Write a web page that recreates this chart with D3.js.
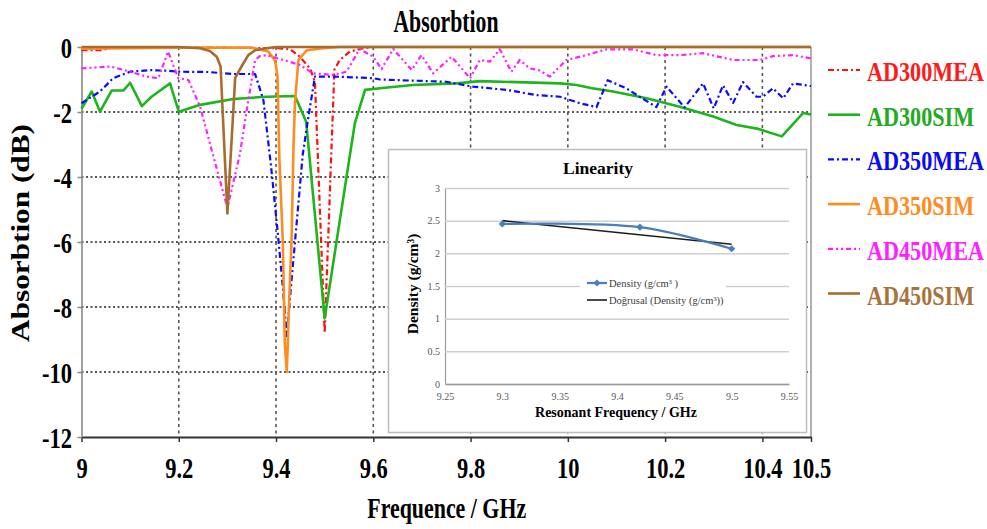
<!DOCTYPE html>
<html>
<head>
<meta charset="utf-8">
<script src="https://cdn.jsdelivr.net/npm/d3@7"></script>
<style>
  body { margin: 0; background: #fff; }
  svg { display: block; font-family: "Liberation Serif", "Times New Roman", serif; }
</style>
</head>
<body>
<svg id="chart" width="987" height="529"></svg>
<script>
// main chart series, [frequency GHz, absorption dB]
const ad300mea = [[9,-0.1],[9.04,-0.1],[9.06,-0.03],[9.2,-0.02],[9.3,-0.02],[9.41,-0.04],[9.43,-0.08],[9.449,-0.3],[9.47,-0.66],[9.48,-1.07],[9.5,-8.8],[9.52,-0.7],[9.531,-0.4],[9.552,-0.14],[9.579,-0.04],[9.6,0],[10.5,0]];
const ad300sim = [[9,-1.9],[9.021,-1.37],[9.038,-1.99],[9.062,-1.34],[9.086,-1.34],[9.1,-1.1],[9.124,-1.82],[9.144,-1.53],[9.182,-1.12],[9.2,-1.99],[9.244,-1.78],[9.312,-1.6],[9.38,-1.53],[9.439,-1.51],[9.462,-2.3],[9.5,-8.35],[9.562,-2.35],[9.583,-1.32],[9.614,-1.27],[9.681,-1.17],[9.771,-1.12],[9.819,-1.05],[9.984,-1.12],[10.018,-1.17],[10.05,-1.27],[10.093,-1.37],[10.162,-1.58],[10.23,-1.84],[10.299,-2.14],[10.347,-2.4],[10.392,-2.52],[10.44,-2.75],[10.484,-2.03],[10.5,-2.08]];
const ad350mea = [[9,-1.73],[9.038,-1.37],[9.065,-0.96],[9.1,-0.76],[9.141,-0.71],[9.175,-0.73],[9.2,-0.76],[9.26,-0.77],[9.312,-0.83],[9.357,-0.83],[9.374,-1.63],[9.39,-3.7],[9.405,-5.94],[9.414,-7.4],[9.422,-8.9],[9.43,-7.5],[9.455,-3.3],[9.466,-2.2],[9.48,-0.91],[9.52,-0.91],[9.6,-0.96],[9.614,-1.0],[9.75,-1.07],[9.805,-1.22],[9.874,-1.32],[9.936,-1.48],[9.984,-1.53],[10.025,-1.73],[10.059,-1.85],[10.082,-1.02],[10.12,-1.27],[10.182,-1.85],[10.203,-1.22],[10.24,-1.86],[10.278,-1.12],[10.3,-1.89],[10.319,-1.18],[10.34,-1.72],[10.36,-1.08],[10.388,-1.53],[10.401,-1.53],[10.422,-1.27],[10.443,-1.58],[10.463,-1.12],[10.5,-1.2]];
const ad350sim = [[9,-0.05],[9.2,-0.02],[9.35,-0.02],[9.384,-0.14],[9.398,-0.42],[9.403,-0.9],[9.407,-3.5],[9.414,-6.0],[9.418,-9.1],[9.422,-10],[9.424,-9.2],[9.426,-8.2],[9.432,-5.9],[9.436,-3.0],[9.439,-1.7],[9.446,-0.4],[9.463,-0.1],[9.497,-0.04],[9.53,0],[10.5,0]];
const ad450mea = [[9,-0.66],[9.059,-0.6],[9.093,-0.73],[9.134,-0.91],[9.158,-0.96],[9.178,-0.14],[9.199,-0.96],[9.22,-1.02],[9.244,-1.84],[9.27,-3.3],[9.3,-4.95],[9.326,-3.27],[9.343,-1.63],[9.357,-0.4],[9.367,-0.28],[9.381,-0.25],[9.415,-0.4],[9.449,-0.55],[9.476,-0.81],[9.518,-0.86],[9.545,-0.76],[9.572,-0.06],[9.6,-0.3],[9.617,-0.68],[9.641,-0.06],[9.679,-0.71],[9.699,-0.25],[9.723,-0.81],[9.761,-0.3],[9.799,-0.96],[9.819,-0.4],[9.84,-0.45],[9.86,-0.07],[9.884,-0.76],[9.901,-0.4],[9.922,-0.66],[9.939,-0.7],[9.963,-0.91],[9.997,-0.4],[10.038,-0.25],[10.08,-0.07],[10.134,-0.07],[10.182,-0.25],[10.23,-0.25],[10.278,-0.19],[10.34,-0.4],[10.395,-0.4],[10.422,-0.28],[10.463,-0.25],[10.5,-0.35]];
const ad450sim = [[9,0],[9.2,0],[9.244,-0.04],[9.264,-0.12],[9.278,-0.3],[9.286,-0.6],[9.3,-5.12],[9.316,-0.95],[9.329,-0.6],[9.343,-0.25],[9.357,-0.1],[9.38,-0.04],[9.4,0],[10.5,0]];

const seriesNames = ["AD300MEA", "AD300SIM", "AD350MEA", "AD350SIM", "AD450MEA", "AD450SIM"];
const seriesData = [ad300mea, ad300sim, ad350mea, ad350sim, ad450mea, ad450sim];

const xTicks = [9, 9.2, 9.4, 9.6, 9.8, 10, 10.2, 10.4, 10.5];
const xTickLabels = ["9", "9.2", "9.4", "9.6", "9.8", "10", "10.2", "10.4", "10.5"];
const yTicks = [0, -2, -4, -6, -8, -10, -12];
const yTickLabels = ["0", "-2", "-4", "-6", "-8", "-10", "-12"];

// inset "Linearity"
const resFreq = [9.3, 9.42, 9.5];
const density = [2.45, 2.40, 2.07];
const trendFreq = [9.3, 9.5];
const trendDensity = [2.50, 2.14];
const insetXTicks = [9.25, 9.3, 9.35, 9.4, 9.45, 9.5, 9.55];
const insetXLabels = ["9.25", "9.3", "9.35", "9.4", "9.45", "9.5", "9.55"];
const insetYTicks = [0, 0.5, 1, 1.5, 2, 2.5, 3];
const insetYLabels = ["0", "0.5", "1", "1.5", "2", "2.5", "3"];

// styles per series (drawing order = series order)
const styles = {
  AD300MEA: {color: "#ff1010", text: "#ff1a1a", dash: "6,3,2,3", width: 2.2},
  AD300SIM: {color: "#1cb51c", text: "#22aa22", dash: null, width: 2.6},
  AD350MEA: {color: "#0a0aff", text: "#0a0aee", dash: "6,3,2,3", width: 2.2},
  AD350SIM: {color: "#ff8c1e", text: "#ff8a20", dash: null, width: 2.6},
  AD450MEA: {color: "#ff20ff", text: "#ff20ff", dash: "5,3,2,3,2,3", width: 2.2},
  AD450SIM: {color: "#a86d2e", text: "#a8733a", dash: null, width: 2.6}
};

const svg = d3.select("#chart");

// condensed serif text helper
const label = (g, str, x, y, o) => g.append("text")
  .attr("transform", `translate(${x},${y}) rotate(${o.rot || 0}) scale(${o.sx || 1},1)`)
  .attr("text-anchor", o.anchor || "middle")
  .attr("font-size", o.size)
  .attr("font-weight", o.weight || "bold")
  .attr("fill", o.fill || "#000")
  .text(str);

const x = d3.scaleLinear().domain([9, 10.5]).range([81.5, 811]);
const y = d3.scaleLinear().domain([-12, 0]).range([437, 47]);

// grid
svg.append("g").selectAll("line")
  .data(yTicks.filter(d => d < 0 && d > -12))
  .join("line")
    .attr("x1", x(9)).attr("x2", x(10.5))
    .attr("y1", d => y(d)).attr("y2", d => y(d))
    .attr("stroke", "#222").attr("stroke-width", 1.6)
    .attr("stroke-dasharray", "2,2.5");

svg.append("g").selectAll("line")
  .data(xTicks.filter(d => d > 9 && d < 10.5))
  .join("line")
    .attr("x1", d => x(d)).attr("x2", d => x(d))
    .attr("y1", y(0)).attr("y2", y(-12))
    .attr("stroke", "#555").attr("stroke-width", 1.6)
    .attr("stroke-dasharray", "3,3.5");

// right frame
svg.append("line")
  .attr("x1", x(10.5)).attr("x2", x(10.5)).attr("y1", y(0)).attr("y2", y(-12))
  .attr("stroke", "#999").attr("stroke-width", 1.5);

// axes
const sxTick = 0.75;
const xAxis = svg.append("g")
  .attr("transform", `translate(0,${y(-12)})`)
  .call(d3.axisBottom(x).tickValues(xTicks).tickFormat((d, i) => xTickLabels[i]).tickSize(5).tickSizeOuter(0));
xAxis.attr("font-family", null).attr("font-size", 30).attr("font-weight", "bold");
xAxis.select(".domain").attr("stroke", "#333").attr("stroke-width", 2);
xAxis.selectAll(".tick line").attr("stroke", "#333").attr("stroke-width", 1.5);
xAxis.selectAll(".tick text").attr("y", 41).attr("dy", null).attr("fill", "#000")
  .attr("transform", `scale(${sxTick},1)`);

const yAxis = svg.append("g")
  .attr("transform", `translate(${x(9)},0)`)
  .call(d3.axisLeft(y).tickValues(yTicks).tickFormat((d, i) => yTickLabels[i]).tickSize(4).tickSizeOuter(0));
yAxis.attr("font-family", null).attr("font-size", 30).attr("font-weight", "bold");
yAxis.select(".domain").attr("stroke", "#888").attr("stroke-width", 1.6);
yAxis.selectAll(".tick line").attr("stroke", "#888").attr("stroke-width", 1.5);
yAxis.selectAll(".tick text").attr("x", -9.5 / sxTick).attr("y", 10.5).attr("dy", null).attr("fill", "#000")
  .attr("transform", `scale(${sxTick},1)`);

// series lines
const line = d3.line().x(d => x(d[0])).y(d => y(d[1]));
svg.append("g").selectAll("path")
  .data(seriesNames)
  .join("path")
    .attr("d", (d, i) => line(seriesData[i]))
    .attr("fill", "none")
    .attr("stroke", d => styles[d].color)
    .attr("stroke-width", d => styles[d].width)
    .attr("stroke-dasharray", d => styles[d].dash)
    .attr("stroke-linejoin", "round");

// titles
label(svg, "Absorbtion", 446, 32, {size: 32, sx: 0.68});
label(svg, "Frequence / GHz", 446.7, 518, {size: 30, sx: 0.73});
label(svg, "Absorbtion (dB)", 28.5, 233, {size: 25, sx: 1.25, rot: -90});

// legend
const legend = svg.append("g").selectAll("g")
  .data(seriesNames)
  .join("g")
    .attr("transform", (d, i) => `translate(0,${81 + i * 44.7})`);
legend.append("line")
  .attr("x1", 828).attr("x2", 860).attr("y1", -11).attr("y2", -11)
  .attr("stroke", d => styles[d].color)
  .attr("stroke-width", d => styles[d].width)
  .attr("stroke-dasharray", d => styles[d].dash);
legend.each(function(d) {
  label(d3.select(this), d, 867, 0, {size: 27.7, sx: 0.8, anchor: "start", fill: styles[d].text});
});

// inset chart
const inset = svg.append("g");
inset.append("rect")
  .attr("x", 388.5).attr("y", 149.5).attr("width", 418).attr("height", 283)
  .attr("fill", "#fff").attr("stroke", "#bdbdbd").attr("stroke-width", 1.5);

const ix = d3.scaleLinear().domain([9.25, 9.55]).range([445, 789]);
const iy = d3.scaleLinear().domain([0, 3]).range([384, 188]);

const iyAxis = inset.append("g")
  .attr("transform", `translate(${ix(9.25)},0)`)
  .call(d3.axisLeft(iy).tickValues(insetYTicks).tickFormat((d, i) => insetYLabels[i])
    .tickSize(-(ix(9.55) - ix(9.25))).tickSizeOuter(0).tickPadding(5));
iyAxis.attr("font-family", null).attr("font-size", 10);
iyAxis.select(".domain").attr("stroke", "#9a9a9a").attr("stroke-width", 1.2);
iyAxis.selectAll(".tick line").attr("stroke", "#cfcfcf").attr("stroke-width", 1.5);
iyAxis.selectAll(".tick text").attr("fill", "#595959");

const ixAxis = inset.append("g")
  .attr("transform", `translate(0,${iy(0)})`)
  .call(d3.axisBottom(ix).tickValues(insetXTicks).tickFormat((d, i) => insetXLabels[i])
    .tickSize(0).tickSizeOuter(0).tickPadding(9));
ixAxis.attr("font-family", null).attr("font-size", 10);
ixAxis.select(".domain").attr("stroke", "#9a9a9a").attr("stroke-width", 1.5);
ixAxis.selectAll(".tick text").attr("fill", "#595959");

const trendLine = d3.line().x(d => ix(d[0])).y(d => iy(d[1]));
inset.append("path")
  .attr("d", trendLine(trendFreq.map((f, i) => [f, trendDensity[i]])))
  .attr("fill", "none").attr("stroke", "#1e1e1e").attr("stroke-width", 1.6);

const densityPts = resFreq.map((f, i) => [f, density[i]]);
inset.append("path")
  .attr("d", trendLine.curve(d3.curveCatmullRom.alpha(0.5))(densityPts))
  .attr("fill", "none").attr("stroke", "#4a7ebb").attr("stroke-width", 2.2);
trendLine.curve(d3.curveLinear);

const diamond = d3.symbol(d3.symbolSquare).size(26);
inset.append("g").selectAll("path")
  .data(densityPts)
  .join("path")
    .attr("d", diamond)
    .attr("transform", d => `translate(${ix(d[0])},${iy(d[1])}) rotate(45)`)
    .attr("fill", "#4a7ebb");

// inset legend
inset.append("rect")
  .attr("x", 580).attr("y", 275).attr("width", 146).attr("height", 33).attr("fill", "#fff");
inset.append("line")
  .attr("x1", 587).attr("x2", 607).attr("y1", 283).attr("y2", 283)
  .attr("stroke", "#4a7ebb").attr("stroke-width", 2.2);
inset.append("path")
  .attr("d", diamond)
  .attr("transform", "translate(597,283) rotate(45)")
  .attr("fill", "#4a7ebb");
inset.append("line")
  .attr("x1", 587).attr("x2", 607).attr("y1", 300).attr("y2", 300)
  .attr("stroke", "#1e1e1e").attr("stroke-width", 1.6);
label(inset, "Density (g/cm³ )", 609, 286.5, {size: 10.5, weight: "normal", anchor: "start", fill: "#404040"});
label(inset, "Doğrusal (Density (g/cm³))", 609, 303.5, {size: 10.5, weight: "normal", anchor: "start", fill: "#404040"});

label(inset, "Linearity", 598, 173.5, {size: 17.5});
label(inset, "Resonant Frequency / GHz", 616, 416.5, {size: 14});
label(inset, "Density (g/cm³)", 417.5, 284, {size: 15.5, rot: -90});
</script>
</body>
</html>
